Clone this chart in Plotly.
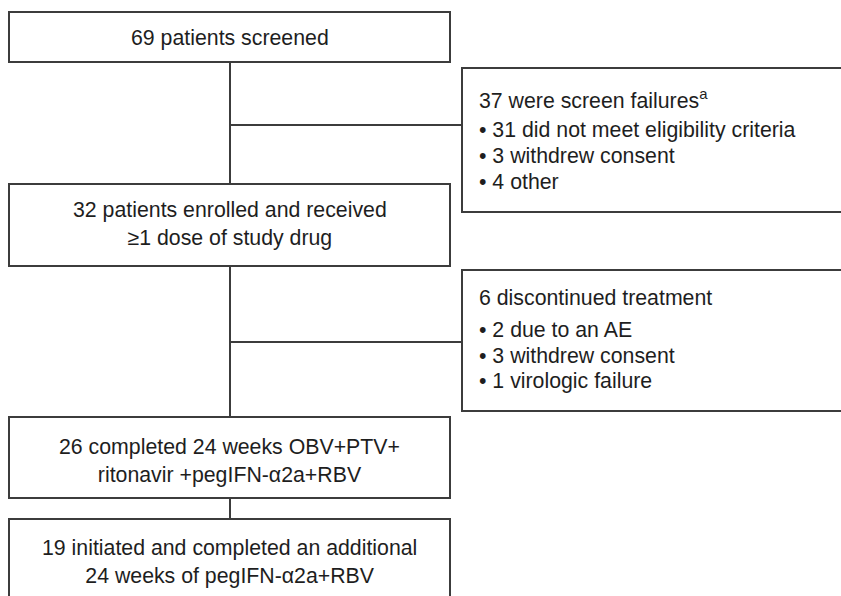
import plotly.graph_objects as go

# ---- content (data) ----
main_texts = [
    "69 patients screened",
    "32 patients enrolled and received<br>≥1 dose of study drug",
    "26 completed 24 weeks OBV+PTV+<br>ritonavir +pegIFN-α2a+RBV",
    "19 initiated and completed an additional<br>24 weeks of pegIFN-α2a+RBV",
]
side_headers = [
    "37 were screen failures<sup>a</sup>",
    "6 discontinued treatment",
]
side_bullets = [
    ["31 did not meet eligibility criteria", "3 withdrew consent", "4 other"],
    ["2 due to an AE", "3 withdrew consent", "1 virologic failure"],
]

# ---- layout geometry (pixel space of the 841x596 canvas) ----
W, H = 841, 596
main_boxes = [(9, 12, 450, 62), (9, 184, 450, 266), (9, 417, 450, 498), (9, 519, 450, 610)]
main_text_y = [38, 224, 461, 562]
side_boxes = [(462, 68, 850, 212), (462, 270, 850, 411)]
side_header_y = [99, 298]
side_bullet_y = [[130, 156, 182], [330, 356, 381]]
spine_x = 230
branch_y = [125, 342]
text_x = 477

LINE = "#3c3c3c"
TXT = "#1e1e1e"
FONT = "Liberation Sans, Arial, sans-serif"
FS = 21.3

fig = go.Figure()
shapes = []
annotations = []

for (x0, y0, x1, y1) in main_boxes + side_boxes:
    shapes.append(dict(type="rect", x0=x0, y0=y0, x1=x1, y1=y1,
                       line=dict(color=LINE, width=2), fillcolor="white", layer="above"))

# vertical connectors between main boxes
for i in range(len(main_boxes) - 1):
    shapes.append(dict(type="line", x0=spine_x, x1=spine_x,
                       y0=main_boxes[i][3], y1=main_boxes[i + 1][1],
                       line=dict(color=LINE, width=2), layer="below"))
# branch connectors to side boxes
for by, sb in zip(branch_y, side_boxes):
    shapes.append(dict(type="line", x0=spine_x, x1=sb[0], y0=by, y1=by,
                       line=dict(color=LINE, width=2), layer="below"))

for txt, (x0, y0, x1, y1), ty in zip(main_texts, main_boxes, main_text_y):
    annotations.append(dict(x=(x0 + x1) / 2, y=ty, text=txt, showarrow=False,
                            xanchor="center", yanchor="middle", align="center",
                            font=dict(family=FONT, size=FS, color=TXT)))

for hdr, hy, bullets, bys in zip(side_headers, side_header_y, side_bullets, side_bullet_y):
    annotations.append(dict(x=text_x, y=hy, text=hdr, showarrow=False,
                            xanchor="left", yanchor="middle", align="left",
                            font=dict(family=FONT, size=FS, color=TXT)))
    for b, by in zip(bullets, bys):
        annotations.append(dict(x=text_x, y=by, text="• " + b, showarrow=False,
                                xanchor="left", yanchor="middle", align="left",
                                font=dict(family=FONT, size=FS, color=TXT)))

fig.update_layout(
    width=W, height=H,
    margin=dict(l=0, r=0, t=0, b=0),
    paper_bgcolor="white", plot_bgcolor="white",
    xaxis=dict(range=[0, W], visible=False, fixedrange=True),
    yaxis=dict(range=[H, 0], visible=False, fixedrange=True),
    shapes=shapes, annotations=annotations, showlegend=False,
)

fig.write_html(
    "out.html",
    config={"displayModeBar": False},
    post_script="document.body.style.margin='0';document.body.style.overflow='hidden';",
)
